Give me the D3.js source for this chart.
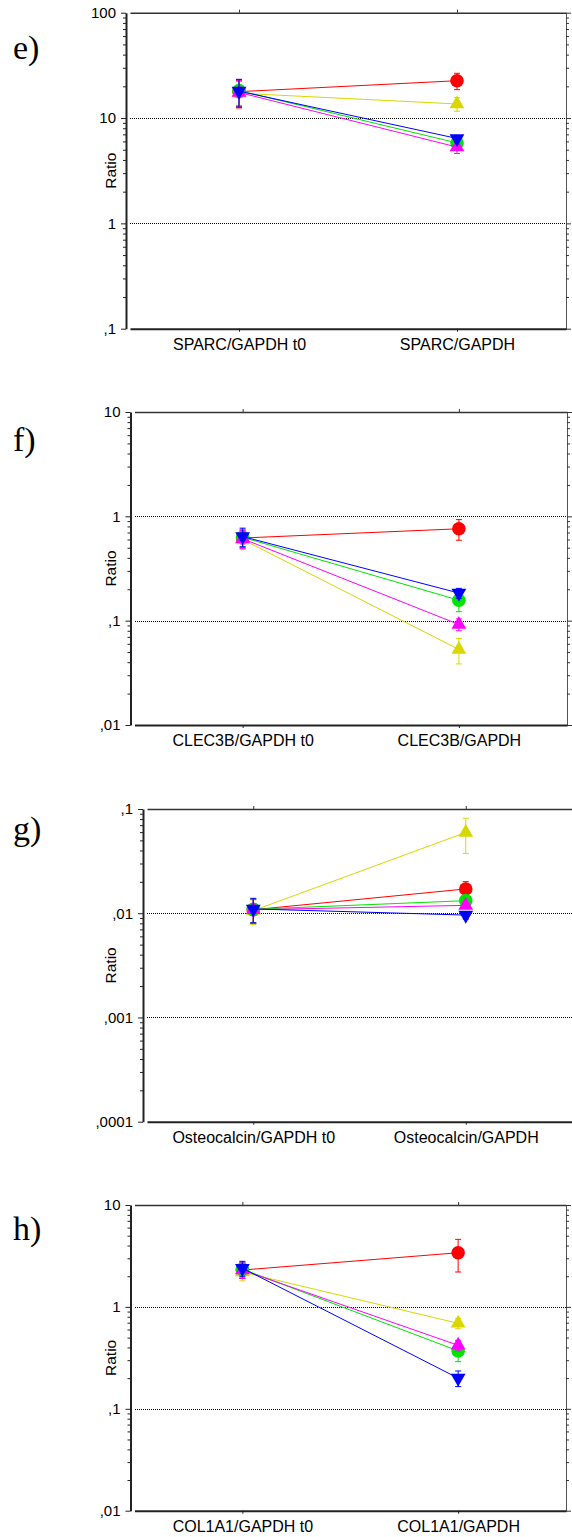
<!DOCTYPE html>
<html>
<head>
<meta charset="utf-8">
<script src="https://cdn.jsdelivr.net/npm/d3@7.9.0/dist/d3.min.js"></script>
<style>
  body { margin: 0; background: #fff; }
  svg { display: block; }
</style>
</head>
<body>
<script>
// series order: red circle, yellow triangle, green circle, magenta triangle, blue triangle down
const seriesColors = ["#ff0000", "#d8d800", "#00e400", "#ff00ff", "#0000ff"];
const seriesShapes = ["circle", "triangle", "circle", "triangle", "triangleDown"];

// e) SPARC
const sparcCats = ["SPARC/GAPDH t0", "SPARC/GAPDH"];
const sparcMean = [[17.8, 22.6], [17.2, 13.6], [18.2, 5.8], [17.5, 5.3], [18.0, 6.4]];
const sparcErr = [[5, 4], [5, 2], [5, 0.6], [5, 0.7], [5.3, 0.4]];
const sparcTicks = [0.1, 1, 10, 100];
const sparcTickLabels = [",1", "1", "10", "100"];

// f) CLEC3B
const clecCats = ["CLEC3B/GAPDH t0", "CLEC3B/GAPDH"];
const clecMean = [[0.62, 0.76], [0.6, 0.053], [0.63, 0.157], [0.61, 0.092], [0.64, 0.184]];
const clecErr = [[0.12, 0.17], [0.12, 0.0145], [0.12, 0.035], [0.12, 0.012], [0.13, 0.02]];
const clecTicks = [0.01, 0.1, 1, 10];
const clecTickLabels = [",01", ",1", "1", "10"];

// g) Osteocalcin
const osteoCats = ["Osteocalcin/GAPDH t0", "Osteocalcin/GAPDH"];
const osteoMean = [[0.0108, 0.0171], [0.0106, 0.0595], [0.0109, 0.0132], [0.0108, 0.0119], [0.011, 0.0096]];
const osteoErr = [[0.0028, 0.003], [0.0028, 0.022], [0.0028, 0.001], [0.0028, 0.0008], [0.0029, 0.0008]];
const osteoTicks = [0.0001, 0.001, 0.01, 0.1];
const osteoTickLabels = [",0001", ",001", ",01", ",1"];

// h) COL1A1
const colCats = ["COL1A1/GAPDH t0", "COL1A1/GAPDH"];
const colMean = [[2.3, 3.4], [2.2, 0.69], [2.35, 0.37], [2.3, 0.42], [2.4, 0.2]];
const colErr = [[0.4, 1.2], [0.4, 0.08], [0.4, 0.08], [0.4, 0.05], [0.4, 0.035]];
const colTicks = [0.01, 0.1, 1, 10];
const colTickLabels = [",01", ",1", "1", "10"];

const panels = [
  { letter: "e)", letterY: 59, cats: sparcCats, mean: sparcMean, err: sparcErr, ticks: sparcTicks, labels: sparcTickLabels,
    box: { left: 126, right: 566, top: 12.7, bottom: 328.7 }, rightFrame: true },
  { letter: "f)", letterY: 451, cats: clecCats, mean: clecMean, err: clecErr, ticks: clecTicks, labels: clecTickLabels,
    box: { left: 130.5, right: 567, top: 412, bottom: 725 }, rightFrame: true },
  { letter: "g)", letterY: 840, cats: osteoCats, mean: osteoMean, err: osteoErr, ticks: osteoTicks, labels: osteoTickLabels,
    box: { left: 143, right: 572, top: 809, bottom: 1121.7 }, rightFrame: false },
  { letter: "h)", letterY: 1240, cats: colCats, mean: colMean, err: colErr, ticks: colTicks, labels: colTickLabels,
    box: { left: 130.5, right: 566, top: 1205, bottom: 1510.7 }, rightFrame: true }
];

const svg = d3.select("body").append("svg")
  .attr("width", 572)
  .attr("height", 1537);

svg.append("rect").attr("width", 572).attr("height", 1537).attr("fill", "#fff");

const sansFont = "'Liberation Sans', Arial, sans-serif";

function symbolFor(shape) {
  if (shape === "circle") return d3.symbol().type(d3.symbolCircle).size(145)();
  return d3.symbol().type(d3.symbolTriangle).size(95)();
}

panels.forEach(p => {
  const b = p.box;
  const g = svg.append("g");

  const y = d3.scaleLog()
    .domain([p.ticks[0], p.ticks[p.ticks.length - 1]])
    .range([b.bottom, b.top]);
  const x = d3.scalePoint()
    .domain(p.cats)
    .range([b.left + 4, b.right])
    .padding(0.5);

  // minor ticks 2..9 per decade
  const minor = [];
  for (let i = 0; i < p.ticks.length - 1; i++) {
    for (let k = 2; k <= 9; k++) minor.push(p.ticks[i] * k);
  }

  // dotted gridlines at decades
  g.append("g").selectAll("line")
    .data(p.ticks.slice(1, -1))
    .join("line")
    .attr("x1", Math.round(b.left + 4))
    .attr("x2", Math.round(b.right))
    .attr("y1", d => Math.round(y(d)) + 0.5)
    .attr("y2", d => Math.round(y(d)) + 0.5)
    .attr("stroke", "#000")
    .attr("stroke-width", 1)
    .attr("stroke-dasharray", "1,1")
    .attr("shape-rendering", "crispEdges");

  // top frame
  const top = g.append("g")
    .attr("transform", `translate(0,${b.top})`)
    .call(d3.axisTop(x).tickSize(3).tickSizeOuter(0).tickFormat(""));
  top.select(".domain").attr("stroke", "#333").attr("stroke-width", 1.6);
  top.selectAll(".tick line").attr("stroke", "#333");

  // right frame
  if (p.rightFrame) {
    const right = g.append("g")
      .attr("transform", `translate(${b.right},0)`)
      .call(d3.axisRight(y).tickValues(p.ticks).tickSize(5).tickSizeOuter(0).tickFormat(""));
    right.select(".domain").attr("stroke", "#555").attr("stroke-width", 1);
    right.selectAll(".tick line").attr("stroke", "#333");
    const rightMinor = g.append("g")
      .attr("transform", `translate(${b.right},0)`)
      .call(d3.axisRight(y).tickValues(minor).tickSize(3).tickFormat(""));
    rightMinor.select(".domain").remove();
    rightMinor.selectAll(".tick line").attr("stroke", "#333");
  }

  // bottom axis with category labels
  const bottom = g.append("g")
    .attr("transform", `translate(0,${b.bottom})`)
    .call(d3.axisBottom(x).tickSize(3).tickSizeOuter(0).tickPadding(7));
  bottom.select(".domain").attr("stroke", "#222").attr("stroke-width", 2);
  bottom.selectAll(".tick line").attr("stroke", "#222");
  bottom.selectAll("text")
    .attr("font-family", sansFont)
    .attr("font-size", 16)
    .attr("fill", "#000");

  // left axis
  const left = g.append("g")
    .attr("transform", `translate(${b.left},0)`)
    .call(d3.axisLeft(y).tickValues(p.ticks).tickSize(5).tickSizeOuter(0).tickPadding(5)
      .tickFormat((d, i) => p.labels[i]));
  left.select(".domain").attr("stroke", "#222").attr("stroke-width", 2);
  left.selectAll(".tick line").attr("stroke", "#222");
  left.selectAll("text")
    .attr("font-family", sansFont)
    .attr("font-size", 15)
    .attr("fill", "#000");

  const leftMinor = g.append("g")
    .attr("transform", `translate(${b.left},0)`)
    .call(d3.axisLeft(y).tickValues(minor).tickSize(3).tickFormat(""));
  leftMinor.select(".domain").remove();
  leftMinor.selectAll(".tick line").attr("stroke", "#222");

  // y title
  g.append("text")
    .attr("transform", `translate(116,${(b.top + b.bottom) / 2}) rotate(-90)`)
    .attr("text-anchor", "middle")
    .attr("font-family", sansFont)
    .attr("font-size", 15.5)
    .text("Ratio");

  // panel letter
  g.append("text")
    .attr("x", 13)
    .attr("y", p.letterY)
    .attr("font-family", "'Liberation Serif', 'Times New Roman', serif")
    .attr("font-size", 34)
    .text(p.letter);

  // series
  p.mean.forEach((vals, si) => {
    const color = seriesColors[si];
    const sg = g.append("g");
    const pts = vals.map((v, i) => [x(p.cats[i]), y(v)]);

    sg.append("path")
      .attr("d", d3.line()(pts))
      .attr("fill", "none")
      .attr("stroke", color)
      .attr("stroke-width", 1);

    vals.forEach((v, i) => {
      const e = p.err[si][i];
      const cx = x(p.cats[i]);
      const y1 = y(v + e);
      const y2 = y(Math.max(v - e, p.ticks[0]));
      sg.append("line").attr("x1", cx).attr("x2", cx).attr("y1", y1).attr("y2", y2)
        .attr("stroke", color).attr("stroke-width", 1);
      [y1, y2].forEach(yy => {
        sg.append("line").attr("x1", cx - 3).attr("x2", cx + 3).attr("y1", yy).attr("y2", yy)
          .attr("stroke", color).attr("stroke-width", 1);
      });
    });

    sg.selectAll("path.sym")
      .data(vals)
      .join("path")
      .attr("class", "sym")
      .attr("d", symbolFor(seriesShapes[si]))
      .attr("transform", (v, i) => `translate(${x(p.cats[i])},${y(v)})` +
        (seriesShapes[si] === "triangleDown" ? " rotate(180)" : ""))
      .attr("fill", color);
  });
});
</script>
</body>
</html>
